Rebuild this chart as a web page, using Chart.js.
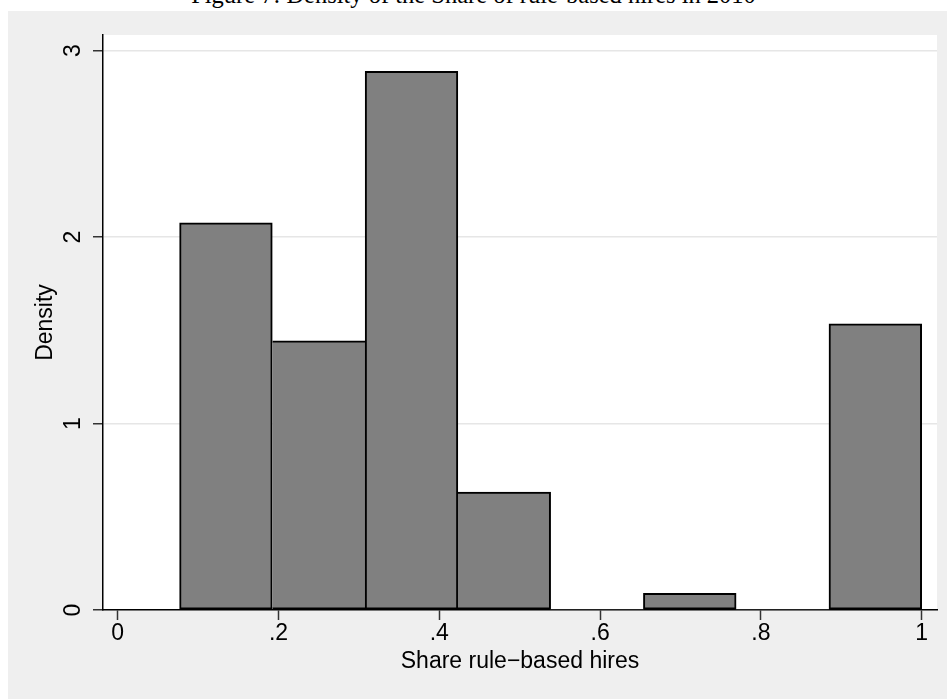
<!DOCTYPE html>
<html lang="en">
<head>
<meta charset="UTF-8">
<title>Density of the Share of rule-based hires in 2010</title>
<style>
    body {
        margin: 0;
        background: #fff;
        width: 947px;
        height: 699px;
        overflow: hidden;
        position: relative;
    }
    .panel {
        position: absolute;
        left: 8px;
        top: 11px;
        width: 939px;
        height: 688px;
        background: #efefef;
    }
    canvas {
        position: absolute;
        left: 8px;
        top: 11px;
    }
    .fig-title {
        position: absolute;
        left: 0;
        top: -16px;
        width: 947px;
        text-align: center;
        font-family: "Liberation Serif", "Times New Roman", serif;
        font-size: 24.5px;
        line-height: 22px;
        color: #000;
        white-space: nowrap;
    }
</style>
<script src="https://cdn.jsdelivr.net/npm/chart.js"></script>
</head>
<body>

<div class="panel"></div>
<canvas id="histChart" width="939" height="688"></canvas>
<div class="fig-title">Figure 7: Density of the Share of rule-based hires in 2010</div>

<script>
    // Histogram bins (midpoints) and densities
    const binMids = [0.1346, 0.2500, 0.3654, 0.4808, 0.5962, 0.7115, 0.8269, 0.9423];
    const densities = [2.076, 1.444, 2.889, 0.632, 0, 0.090, 0, 1.535];

    // Axis ticks
    const xTicks = [0, 0.2, 0.4, 0.6, 0.8, 1];
    const yTicks = [0, 1, 2, 3];

    const axisFont = { family: 'Liberation Sans, Arial, sans-serif', size: 23 };
    const BW = 2;

    // Stata-style label: .2 instead of 0.2
    function stataLabel(v) {
        if (v === 0 || v === 1) return String(v);
        return String(v).replace(/^0/, '');
    }

    // only one border line between two touching bars (the taller bar keeps it)
    function barBorder(ctx) {
        const i = ctx.dataIndex;
        const h = densities[i];
        const prev = i > 0 ? densities[i - 1] : 0;
        const next = i < densities.length - 1 ? densities[i + 1] : 0;
        return {
            top: BW,
            bottom: BW,
            left: prev > 0 && prev >= h ? 0 : BW,
            right: next > 0 && next > h ? 0 : BW
        };
    }

    // white plot region inside the grey graph region
    const plotBackground = {
        id: 'plotBackground',
        beforeDraw(chart) {
            const { ctx, chartArea: a } = chart;
            ctx.save();
            ctx.fillStyle = '#fff';
            ctx.fillRect(a.left, a.top, a.right - a.left, a.bottom - a.top);
            ctx.restore();
        }
    };

    const ctx = document.getElementById('histChart').getContext('2d');
    new Chart(ctx, {
        type: 'bar',
        data: {
            datasets: [{
                data: binMids.map((x, i) => ({ x: x, y: densities[i] })),
                backgroundColor: '#808080',
                borderColor: '#000',
                borderWidth: barBorder,
                borderSkipped: false,
                barPercentage: 1,
                categoryPercentage: 1
            }]
        },
        options: {
            responsive: false,
            animation: false,
            devicePixelRatio: 1,
            layout: { padding: { left: 0, right: 10, top: 24, bottom: 0 } },
            plugins: {
                legend: { display: false },
                tooltip: { enabled: false }
            },
            scales: {
                x: {
                    type: 'linear',
                    min: -0.0183,
                    max: 1.019,
                    offset: false,
                    afterBuildTicks: s => { s.ticks = xTicks.map(v => ({ value: v })); },
                    afterFit: s => { s.height = 89; s.paddingLeft = 0; s.paddingRight = 0; },
                    grid: {
                        offset: false,
                        drawOnChartArea: false,
                        drawTicks: true,
                        tickLength: 10,
                        tickColor: '#333',
                        tickWidth: 1.5
                    },
                    border: { display: true, color: '#000', width: 1.5 },
                    ticks: {
                        padding: 0,
                        color: '#000',
                        font: axisFont,
                        maxRotation: 0,
                        autoSkip: false,
                        callback: v => stataLabel(v)
                    },
                    title: {
                        display: true,
                        text: 'Share rule\u2212based hires',
                        color: '#000',
                        font: axisFont,
                        padding: { top: 0, bottom: 24 }
                    }
                },
                y: {
                    min: 0,
                    max: 3.084,
                    afterBuildTicks: s => { s.ticks = yTicks.map(v => ({ value: v })); },
                    afterFit: s => { s.width = 95; s.paddingTop = 0; s.paddingBottom = 0; },
                    grid: {
                        color: c => (c.tick && c.tick.value === 0) ? 'rgba(0,0,0,0)' : '#e6e6e6',
                        lineWidth: 1.5,
                        tickLength: 10,
                        tickColor: '#333',
                        tickWidth: 1.5
                    },
                    border: { display: true, color: '#000', width: 1.5 },
                    ticks: {
                        minRotation: 90,
                        maxRotation: 90,
                        crossAlign: 'center',
                        padding: 13,
                        color: '#000',
                        font: axisFont,
                        autoSkip: false,
                        callback: v => String(v)
                    },
                    title: {
                        display: true,
                        text: 'Density',
                        color: '#000',
                        font: axisFont,
                        padding: { top: 24, bottom: 0 }
                    }
                }
            }
        },
        plugins: [plotBackground]
    });
</script>

</body>
</html>
